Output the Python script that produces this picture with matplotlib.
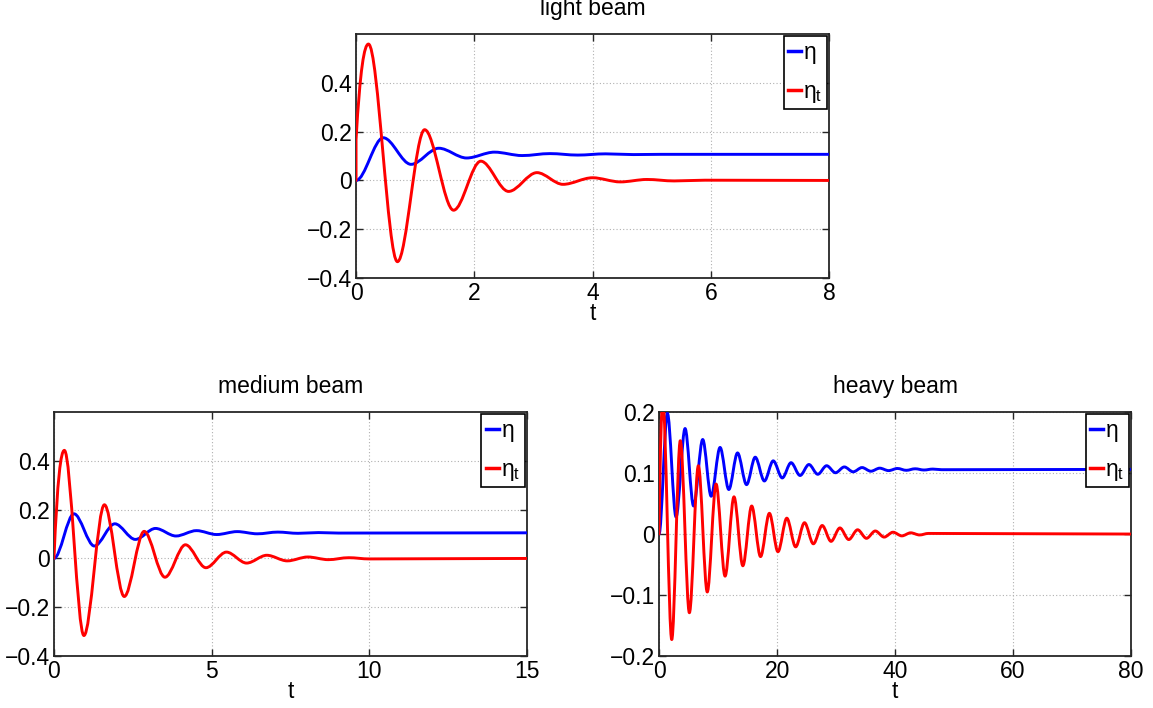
import matplotlib
matplotlib.use("Agg")
import matplotlib.pyplot as plt
from matplotlib.path import Path
from matplotlib.patches import PathPatch
from matplotlib.lines import Line2D

# ---------------- data (turning points) ----------------
light_eta_t = [0, 0.46, 0.93, 1.40, 1.87, 2.34, 2.81, 3.28, 3.75, 4.22, 4.69, 5.16, 8.0]
light_eta = [0, 0.175, 0.066, 0.132, 0.092, 0.116, 0.102, 0.110, 0.104, 0.109, 0.106, 0.107, 0.107]
light_etat_t = [0, 0, 0.21, 0.70, 1.16, 1.65, 2.11, 2.58, 3.06, 3.50, 4.00, 4.47, 4.92, 5.38, 5.90, 8.0]
light_etat = [0, 0.167, 0.559, -0.333, 0.208, -0.122, 0.079, -0.045, 0.032, -0.016, 0.011,
              -0.006, 0.004, -0.002, 0.001, 0.0]

medium_eta_t = [0, 0.634, 1.28, 1.93, 2.58, 3.22, 3.87, 4.52, 5.16, 5.81, 6.45, 7.10, 7.74,
                8.39, 9.03, 15]
medium_eta = [0, 0.183, 0.051, 0.142, 0.078, 0.123, 0.092, 0.114, 0.098, 0.110, 0.101, 0.108,
              0.103, 0.106, 0.104, 0.105]
medium_etat_t = [0, 0.33, 0.95, 1.60, 2.23, 2.86, 3.52, 4.17, 4.82, 5.47, 6.11, 6.75, 7.40,
                 8.05, 8.70, 9.35, 10.0, 15]
medium_etat = [0, 0.443, -0.316, 0.220, -0.156, 0.111, -0.077, 0.056, -0.038, 0.026, -0.019,
               0.013, -0.010, 0.006, -0.005, 0.003, -0.002, 0]

heavy_eta_t = [0, 1.41, 2.88, 4.41, 5.85, 7.4, 8.83, 10.34, 11.82, 13.3, 14.83, 16.3, 17.85,
               19.35, 20.88, 22.37, 23.9, 25.4, 26.9, 28.4, 29.9, 31.4, 32.9, 34.4, 35.9, 37.4,
               38.9, 40.4, 41.9, 43.4, 44.9, 46.4, 47.9, 80]
heavy_eta = [0, 0.198, 0.028, 0.173, 0.046, 0.155, 0.062, 0.142, 0.073, 0.133, 0.081, 0.126,
             0.087, 0.120, 0.092, 0.117, 0.096, 0.114, 0.098, 0.112, 0.1005, 0.110, 0.102,
             0.109, 0.103, 0.108, 0.104, 0.1075, 0.1045, 0.107, 0.105, 0.1065, 0.1055, 0.106]
heavy_etat_t = [0, 0.65, 2.15, 3.60, 5.14, 6.66, 8.17, 9.66, 11.19, 12.7, 14.2, 15.7, 17.2,
                18.7, 20.15, 21.65, 23.15, 24.65, 26.15, 27.65, 29.15, 30.65, 32.15, 33.65,
                35.15, 36.65, 38.15, 39.65, 41.15, 42.65, 44.15, 45.65, 80]
heavy_etat = [0, 0.215, -0.173, 0.153, -0.129, 0.112, -0.095, 0.082, -0.069, 0.061, -0.052,
              0.046, -0.037, 0.034, -0.029, 0.026, -0.021, 0.0186, -0.016, 0.014, -0.012,
              0.010, -0.009, 0.007, -0.007, 0.005, -0.005, 0.003, -0.003, 0.002, -0.0015,
              0.001, 0]

titles = ["light beam", "medium beam", "heavy beam"]
legend_labels = [r"$\eta$", r"$\eta_\mathrm{t}$"]

light_xticks = [0, 2, 4, 6, 8]
medium_xticks = [0, 5, 10, 15]
heavy_xticks = [0, 20, 40, 60, 80]
beam_yticks = [-0.4, -0.2, 0, 0.2, 0.4]
beam_yticklabels = ["\u22120.4", "\u22120.2", "0", "0.2", "0.4"]
heavy_yticks = [-0.2, -0.1, 0, 0.1, 0.2]
heavy_yticklabels = ["\u22120.2", "\u22120.1", "0", "0.1", "0.2"]

# ---------------- style ----------------
plt.rcParams["font.family"] = ["Liberation Sans", "DejaVu Sans"]
plt.rcParams["mathtext.fontset"] = "custom"
plt.rcParams["mathtext.rm"] = "Liberation Sans"
plt.rcParams["mathtext.it"] = "Liberation Sans"
FS = 16.5
BLUE = (0, 0, 1)
RED = (1, 0, 0)


def smooth_path(ts, vs, steep_start=False):
    verts = [(ts[0], vs[0])]
    codes = [Path.MOVETO]
    first = True
    for (t0, v0), (t1, v1) in zip(zip(ts[:-1], vs[:-1]), zip(ts[1:], vs[1:])):
        dt = t1 - t0
        if dt == 0:
            verts.append((t1, v1))
            codes.append(Path.LINETO)
            continue
        if steep_start and first:
            c1 = (t0 + dt / 3, v0 + 0.75 * (v1 - v0))
        else:
            c1 = (t0 + dt / 3, v0)
        c2 = (t1 - dt / 3, v1)
        verts += [c1, c2, (t1, v1)]
        codes += [Path.CURVE4] * 3
        first = False
    return Path(verts, codes)


def draw_curve(ax, ts, vs, color, steep_start=False):
    patch = PathPatch(smooth_path(ts, vs, steep_start), facecolor="none", edgecolor=color,
                      linewidth=2.1, capstyle="round", joinstyle="round",
                      transform=ax.transData, zorder=3)
    ax.add_patch(patch)


def style_axes(ax, xlim, ylim, xticks, yticks, yticklabels, title):
    ax.set_xlim(*xlim)
    ax.set_ylim(*ylim)
    ax.set_xticks(xticks)
    ax.set_xticklabels([str(x) for x in xticks])
    ax.set_yticks(yticks)
    ax.set_yticklabels(yticklabels)
    ax.tick_params(direction="in", top=True, right=True, length=5, width=1,
                   labelsize=FS, pad=3, colors="#262626", labelcolor="black")
    ax.grid(True, linestyle=(0, (1, 2)), color="#b0b0b0", linewidth=0.8)
    ax.set_axisbelow(True)
    for s in ax.spines.values():
        s.set_linewidth(1.3)
        s.set_color("#262626")
    ax.set_title(title, fontsize=FS, pad=14)
    ax.set_xlabel("t", fontsize=FS, labelpad=-2)
    handles = [Line2D([], [], color=BLUE, lw=2.5), Line2D([], [], color=RED, lw=2.5)]
    leg = ax.legend(handles, legend_labels, loc="upper right", fontsize=FS,
                    handlelength=0.55, handletextpad=0.1, borderpad=0.2,
                    labelspacing=0.6, borderaxespad=0.1, fancybox=False,
                    framealpha=1, edgecolor="black")
    leg.get_frame().set_linewidth(1.2)
    leg.set_zorder(5)


fig = plt.figure(figsize=(11.53, 7.08), dpi=100)
ax1 = fig.add_axes([0.3088, 0.6073, 0.4102, 0.3446])
ax2 = fig.add_axes([0.0468, 0.0734, 0.4102, 0.3446])
ax3 = fig.add_axes([0.5716, 0.0734, 0.4094, 0.3446])

draw_curve(ax1, light_eta_t, light_eta, BLUE)
draw_curve(ax1, light_etat_t, light_etat, RED, steep_start=True)
style_axes(ax1, (0, 8), (-0.4, 0.6), light_xticks, beam_yticks, beam_yticklabels, titles[0])

draw_curve(ax2, medium_eta_t, medium_eta, BLUE)
draw_curve(ax2, medium_etat_t, medium_etat, RED, steep_start=True)
style_axes(ax2, (0, 15), (-0.4, 0.6), medium_xticks, beam_yticks, beam_yticklabels, titles[1])

draw_curve(ax3, heavy_eta_t, heavy_eta, BLUE)
draw_curve(ax3, heavy_etat_t, heavy_etat, RED, steep_start=True)
style_axes(ax3, (0, 80), (-0.2, 0.2), heavy_xticks, heavy_yticks, heavy_yticklabels, titles[2])

fig.savefig("out.png", dpi=100)
